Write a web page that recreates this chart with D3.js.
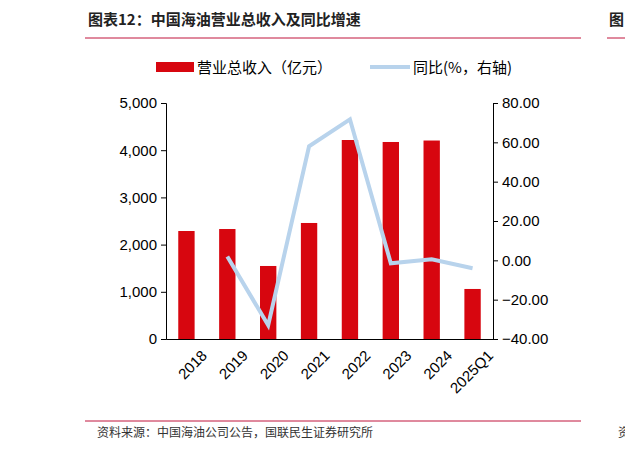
<!DOCTYPE html><html><head><meta charset="utf-8"><script src="https://cdn.jsdelivr.net/npm/d3@7"></script>
<style>body{margin:0;background:#fff}svg{font-family:"Noto Sans CJK SC","Noto Sans",sans-serif}</style></head><body><svg id="c" width="625" height="450"></svg><script>
const categories=["2018","2019","2020","2021","2022","2023","2024","2025Q1"];
const revenue=[2288,2330,1547,2458,4216,4174,4205,1060];
const yoy=[null,2.0,-33.0,58.0,71.7,-1.5,0.5,-4.0];
const leftTicks=[0,1000,2000,3000,4000,5000];
const rightTicks=[-40,-20,0,20,40,60,80];
const svg=d3.select("#c");
svg.append("text").attr("x",88).attr("y",25).attr("font-size",15).attr("font-weight","bold").attr("fill","#222").text("图表12：中国海油营业总收入及同比增速");
svg.append("text").attr("x",609).attr("y",25).attr("font-size",15).attr("font-weight","bold").attr("fill","#222").text("图");
svg.append("line").attr("x1",85).attr("x2",581).attr("y1",38).attr("y2",38).attr("stroke","#c0143c").attr("stroke-width",1);
svg.append("line").attr("x1",607).attr("x2",625).attr("y1",38).attr("y2",38).attr("stroke","#c0143c");
svg.append("line").attr("x1",85).attr("x2",581).attr("y1",421).attr("y2",421).attr("stroke","#c0143c");
svg.append("text").attr("x",97).attr("y",437).attr("font-size",12).attr("fill","#333").text("资料来源：中国海油公司公告，国联民生证券研究所");
svg.append("text").attr("x",618).attr("y",437).attr("font-size",12).attr("fill","#333").text("资");
const x=d3.scaleBand().domain(categories).range([166,493]).paddingInner(0.6).paddingOuter(0.3);
const yL=d3.scaleLinear().domain([0,5000]).range([339,103]);
const yR=d3.scaleLinear().domain([-40,80]).range([339,103]);
svg.selectAll("rect.b").data(revenue).join("rect").attr("x",(d,i)=>x(categories[i])).attr("width",x.bandwidth()).attr("y",d=>yL(d)).attr("height",d=>yL(0)-yL(d)).attr("fill","#d7060f");
const line=d3.line().defined(d=>d!=null).x((d,i)=>x(categories[i])+x.bandwidth()/2).y(d=>yR(d));
svg.append("path").attr("d",line(yoy)).attr("fill","none").attr("stroke","#b8d3ec").attr("stroke-width",4);
const gl=svg.append("g").attr("transform","translate(166,0)").call(d3.axisLeft(yL).tickValues(leftTicks).tickFormat(d3.format(",")).tickSize(5));
const gr=svg.append("g").attr("transform","translate(493,0)").call(d3.axisRight(yR).tickValues(rightTicks).tickFormat(d3.format(".2f")).tickSize(5));
[gl,gr].forEach(g=>{g.selectAll("text").attr("font-size",15).attr("fill","#000").attr("font-family","Arial,Liberation Sans,sans-serif");g.selectAll("line,path").attr("stroke","#000");});
gl.selectAll("text").attr("x",-9);gr.selectAll("text").attr("x",9);
const gx=svg.append("g").attr("transform","translate(0,339)").call(d3.axisBottom(x).tickSize(0));
gx.select("path").attr("stroke","#000");
gx.selectAll("text").attr("font-size",15).attr("fill","#000").attr("font-family","Arial,Liberation Sans,sans-serif").attr("text-anchor","end").attr("transform","translate(12,8) rotate(-45)").attr("dy","0.7em");
svg.append("rect").attr("x",156).attr("y",62).attr("width",38).attr("height",10).attr("fill","#d7060f");
svg.append("text").attr("x",197).attr("y",73).attr("font-size",15).text("营业总收入（亿元）");
svg.append("line").attr("x1",370).attr("x2",410).attr("y1",67).attr("y2",67).attr("stroke","#b8d3ec").attr("stroke-width",4);
svg.append("text").attr("x",413).attr("y",73).attr("font-size",15).text("同比(%，右轴)");
</script></body></html>
